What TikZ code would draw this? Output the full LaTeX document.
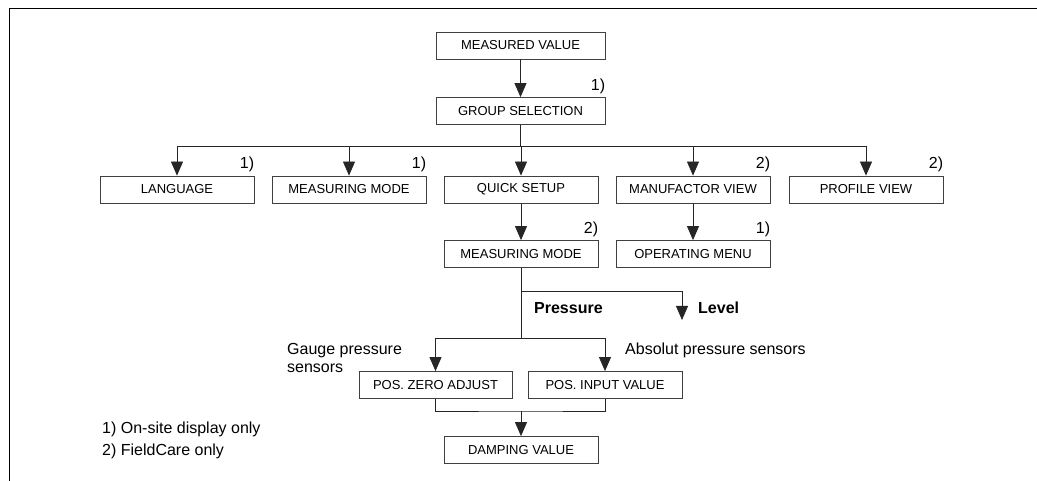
\documentclass[tikz,border=0pt]{standalone}
\usepackage{fontspec}
\setmainfont{Liberation Sans}
\usetikzlibrary{arrows.meta}
\begin{document}
\begin{tikzpicture}[x=1pt,y=-1pt,
  box/.style={draw=black!75,line width=0.8pt,minimum width=154pt,minimum height=27pt,inner sep=0pt,font=\fontsize{13}{15}\selectfont},
  wide/.style={minimum width=169pt},
  conn/.style={line width=0.8pt,draw=black!85},
  arr/.style={conn,-{Triangle[width=12pt,length=14pt]}},
  note/.style={inner sep=0pt,font=\fontsize{16}{17}\selectfont},
  bnote/.style={inner sep=0pt,font=\fontsize{16}{17}\selectfont\bfseries},
  fn/.style={inner sep=0pt,font=\fontsize{16}{17}\selectfont,anchor=base east}]
\useasboundingbox (0,0) rectangle (1037,481);
\fill[white] (0,0) rectangle (1037,481);
% frame
\coordinate (ftl) at (9,9);
\coordinate (ftr) at (1037,9);
\coordinate (fbl) at (9,481);
\draw[line width=1pt] (fbl) -- (ftl) -- (ftr);
% boxes
\node[box,wide] (mv) at (520.5,45.5) {MEASURED VALUE};
\node[box,wide] (gs) at (520.5,111) {GROUP SELECTION};
\node[box] (lang) at (177,189.5) {LANGUAGE};
\node[box] (mm1) at (349,189.5) {MEASURING MODE};
\node[box] (qs) at (521,189.5) {QUICK SETUP};
\node[box] (man) at (693,189.5) {MANUFACTOR VIEW};
\node[box] (pv) at (866,189.5) {PROFILE VIEW};
\node[box] (mm2) at (521,254) {MEASURING MODE};
\node[box] (om) at (693,254) {OPERATING MENU};
\node[box,minimum width=153pt] (pz) at (435.5,385) {POS. ZERO ADJUST};
\node[box] (pi) at (605,385) {POS. INPUT VALUE};
\node[box] (dv) at (521,450) {DAMPING VALUE};
% footnote marks
\node[fn] (f1) at ([yshift=7pt]gs.north east) {1)};
\node[fn] (f2) at ([yshift=7pt]lang.north east) {1)};
\node[fn] (f3) at ([yshift=7pt]mm1.north east) {1)};
\node[fn] (f4) at ([yshift=7pt]man.north east) {2)};
\node[fn] (f5) at ([yshift=7pt]pv.north east) {2)};
\node[fn] (f6) at ([yshift=7pt]mm2.north east) {2)};
\node[fn] (f7) at ([yshift=7pt]om.north east) {1)};
% connectors
\draw[arr] (mv.south) -- (gs.north);
\coordinate (bus) at (520.5,146);
\draw[conn] (gs.south) -- (bus);
\draw[conn] (bus -| lang.north) -- (bus -| pv.north);
\draw[arr] (bus -| lang.north) -- (lang.north);
\draw[arr] (bus -| mm1.north) -- (mm1.north);
\draw[arr] (bus -| qs.north) -- (qs.north);
\draw[arr] (bus -| man.north) -- (man.north);
\draw[arr] (bus -| pv.north) -- (pv.north);
\draw[arr] (qs.south) -- (mm2.north);
\draw[arr] (man.south) -- (om.north);
% measuring mode split
\coordinate (split) at (521,338);
\coordinate (lvbr) at (521,291);
\coordinate (lvend) at (682,320);
\draw[conn] (mm2.south) -- (split);
\draw[conn] (pz.north |- split) -- (pi.north |- split);
\draw[arr] (pz.north |- split) -- (pz.north);
\draw[arr] (pi.north |- split) -- (pi.north);
\draw[arr] (lvbr) -| (lvend);
% merge
\coordinate (merge) at (521,411);
\draw[conn] (pz.south) |- (merge) -| (pi.south);
\draw[arr] (merge) -- (dv.north);
% labels
\node[bnote,anchor=base west] (lp) at (534,313) {Pressure};
\node[bnote,anchor=base west] (ll) at (698,313) {Level};
\node[note,anchor=base west] (lg1) at (287,355) {Gauge pressure};
\node[note,anchor=base west] (lg2) at (287,372) {sensors};
\node[note,anchor=base west] (la) at (625,355) {Absolut pressure sensors};
\node[note,anchor=base west] (leg1) at (102,433) {1) On-site display only};
\node[note,anchor=base west] (leg2) at (102,455) {2) FieldCare only};
\end{tikzpicture}
\end{document}
